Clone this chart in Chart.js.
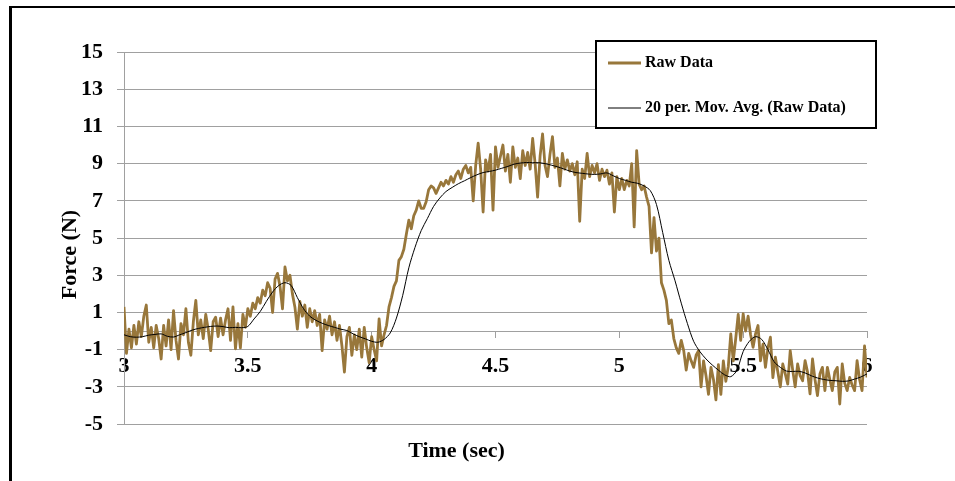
<!DOCTYPE html>
<html lang="en">
<head>
<meta charset="UTF-8">
<title>Force vs Time</title>
<script src="https://cdn.jsdelivr.net/npm/chart.js"></script>
<style>
  body { margin: 0; background: #fff; }
</style>
</head>
<body>
<canvas id="forceChart" width="955" height="481"></canvas>

<script>
// raw samples, one every 0.01 s starting at 3 s
const rawStart = 3, rawStep = 0.01;
const rawForce = [
  1.3, -1.2, 0.1, -0.9, 0.3, -0.7, 0.5, -0.3, 0.8, 1.4,
  -0.6, 0.2, -0.9, 0.3, -0.4, -1.5, 0.3, -0.8, 0.6, -1.0,
  1.1, -0.5, -1.5, 0.4, -0.2, 1.2, -0.6, -1.3, 0.5, 1.65,
  -0.2, 0.6, -0.4, 0.9, 0.1, -1.05, 0.5, 0.75, -0.3, 0.7,
  -0.2, 0.6, 1.2, -0.5, 1.3, -0.95, 0.4, -0.9, 0.9, 0.2,
  1.2, 0.8, 1.5, 1.2, 1.8, 1.5, 2.2, 1.9, 2.6, 2.3,
  1.0, 2.8, 3.1, 2.4, 1.2, 3.45, 2.7, 3.0, 2.0, 1.3,
  0.1, 1.6, 0.8, 1.4, 0.2, 1.2, 0.5, 1.1, 0.3, 0.9,
  -1.05, 0.6, 0.1, 0.8, -0.2, 0.5, -0.5, 0.3, -0.8, -2.2,
  -0.3, 0.2, -1.3, -0.2, -1.0, 0.1, -1.4, 0.2, -0.9, -1.7,
  -0.3, -1.0, -1.6, 0.66, -0.8, -0.2, 0.3, 1.3, 1.8, 2.4,
  2.7, 3.8, 4.0, 4.4, 5.2, 5.96, 5.5, 6.2, 6.5, 7.0,
  6.6, 6.6, 6.95, 7.6, 7.8, 7.7, 7.4, 7.7, 8.0, 7.8,
  8.1, 7.9, 8.3, 8.0, 8.4, 8.6, 8.2, 8.7, 8.9, 8.5,
  8.8, 7.0, 8.9, 10.1, 8.7, 6.4, 9.2, 8.6, 9.5, 6.5,
  9.9, 8.8, 9.4, 10.0, 8.6, 9.5, 8.0, 9.9, 8.8, 9.3,
  8.2, 9.7, 8.9, 9.6, 8.7, 10.35, 9.0, 7.2, 9.4, 10.6,
  8.9, 8.3, 9.5, 10.45, 8.8, 9.3, 7.8, 9.55, 8.7, 9.2,
  8.6, 9.0, 8.4, 9.1, 5.9, 8.7, 8.2, 9.55, 8.3, 8.9,
  8.5, 9.0, 8.1, 8.7, 8.3, 8.65, 7.9, 8.5, 6.4, 8.3,
  7.6, 8.2, 7.6, 8.1, 7.8, 9.0, 5.6, 9.7, 7.9, 7.6,
  7.8, 7.2, 6.7, 4.2, 6.1, 4.3, 5.0, 2.6, 2.2, 1.65,
  0.4, 0.6, -0.4, -0.9, -1.2, -0.5, -1.05, -2.1, -1.2, -1.6,
  -1.95, -1.3, -1.05, -3.0, -1.6, -2.4, -3.4, -1.95, -2.6, -3.7,
  -1.8, -3.4, -1.6, -2.7, -1.9, -0.15, -1.6, -0.4, 0.9, -0.5,
  0.93, 0.0, 0.8, -0.2, -0.87, -0.15, 0.3, -1.6, -0.7, -1.95,
  -0.9, -0.33, -2.5, -1.4, -2.2, -3.0, -1.77, -2.3, -2.85, -1.05,
  -2.1, -3.0, -1.77, -2.4, -2.67, -1.59, -2.2, -3.38, -1.5, -2.6,
  -3.47, -2.3, -1.95, -3.2, -1.95, -2.6, -3.2, -2.2, -1.95, -3.92,
  -1.77, -2.8, -3.2, -2.49, -2.9, -3.2, -1.59, -2.6, -3.2, -0.8,
  -2.49
];

// moving average, every 0.025 s
const avgStart = 3, avgStep = 0.025;
const avgForce = [
  -0.2, -0.3, -0.33, -0.3, -0.22, -0.18, -0.15, -0.28,
  -0.32, -0.2, -0.08, 0.05, 0.14, 0.2, 0.25, 0.27,
  0.24, 0.18, 0.2, 0.18, 0.25, 0.65, 1.05, 1.6,
  2.1, 2.45, 2.6, 2.45, 1.8, 1.2, 0.8, 0.58,
  0.42, 0.3, 0.2, 0.1, 0.03, -0.15, -0.3, -0.42,
  -0.55, -0.6, -0.45, -0.1, 0.7, 1.9, 3.4, 4.5,
  5.4, 6.05, 6.7, 7.15, 7.5, 7.72, 7.92, 8.08,
  8.25, 8.4, 8.52, 8.58, 8.65, 8.75, 8.85, 8.97,
  9.03, 9.06, 9.05, 9.05, 9.0, 8.92, 8.83, 8.72,
  8.6, 8.52, 8.48, 8.44, 8.42, 8.45, 8.5, 8.35,
  8.2, 8.1, 8.0, 7.94, 7.8, 7.55, 6.8, 5.3,
  3.8, 2.7, 1.5, 0.4, -0.55, -1.1, -1.5, -1.82,
  -2.1, -2.35, -2.45, -2.1, -1.1, -0.55, -0.3, -0.45,
  -1.0, -1.65, -1.95, -2.15, -2.17, -2.16, -2.25, -2.4,
  -2.52, -2.6, -2.65, -2.67, -2.7, -2.68, -2.58, -2.47,
  -2.3
];

const timeTicks = [3, 3.5, 4, 4.5, 5, 5.5, 6];
const forceTicks = [-5, -3, -1, 1, 3, 5, 7, 9, 11, 13, 15];

const seriesNames = ['Raw Data', '20 per. Mov. Avg. (Raw Data)'];

const toPoints = (vals, start, step) =>
  vals.map((v, i) => ({ x: +(start + i * step).toFixed(3), y: v }));

const serif = '"Liberation Serif", "Times New Roman", serif';
const gridGray = '#a0a0a0';

// outer frame (left and top edge of the picture)
const frame = {
  id: 'frame',
  beforeDraw(chart) {
    const ctx = chart.ctx;
    ctx.save();
    ctx.fillStyle = '#000';
    ctx.fillRect(9, 6, 3, 475);
    ctx.fillRect(9, 6, 946, 2);
    ctx.restore();
  }
};

// boxed legend sitting over the top right of the plot
const boxLegend = {
  id: 'boxLegend',
  afterDraw(chart) {
    const { ctx, chartArea } = chart;
    const x = chartArea.right - 271, y = chartArea.top - 11, w = 280, h = 87;
    ctx.save();
    ctx.fillStyle = '#fff';
    ctx.fillRect(x, y, w, h);
    ctx.lineWidth = 2;
    ctx.strokeStyle = '#000';
    ctx.strokeRect(x, y, w, h);
    ctx.font = 'bold 16px ' + serif;
    ctx.textBaseline = 'middle';
    chart.data.datasets.forEach((ds, i) => {
      const ly = y + 22 + i * 45;
      ctx.strokeStyle = ds.borderColor;
      ctx.lineWidth = ds.borderWidth;
      ctx.beginPath();
      ctx.moveTo(x + 12, ly);
      ctx.lineTo(x + 45, ly);
      ctx.stroke();
      ctx.fillStyle = '#000';
      ctx.fillText(ds.label, x + 49, ly);
    });
    ctx.restore();
  }
};

Chart.defaults.color = '#000';

new Chart(document.getElementById('forceChart'), {
  type: 'line',
  data: {
    datasets: [
      {
        label: seriesNames[0],
        data: toPoints(rawForce, rawStart, rawStep),
        borderColor: '#98773b',
        borderWidth: 2.8,
        borderJoinStyle: 'round',
        pointRadius: 0,
        tension: 0,
        order: 2
      },
      {
        label: seriesNames[1],
        data: toPoints(avgForce, avgStart, avgStep),
        borderColor: '#000',
        borderWidth: 1,
        pointRadius: 0,
        tension: 0.3,
        order: 1
      }
    ]
  },
  options: {
    responsive: false,
    animation: false,
    devicePixelRatio: 1,
    layout: { padding: { left: 46, right: 88, top: 52, bottom: 16 } },
    plugins: {
      legend: { display: false },
      tooltip: { enabled: false },
      title: {
        display: true,
        position: 'bottom',
        text: 'Time (sec)',
        font: { family: serif, size: 22, weight: 'bold' },
        padding: { top: 14.5, bottom: 0 }
      }
    },
    scales: {
      x: {
        type: 'linear',
        position: { y: 0 },
        min: 3,
        max: 6,
        afterBuildTicks: s => { s.ticks = timeTicks.map(v => ({ value: v })); },
        afterFit: s => { s.height = 0; },
        grid: { drawOnChartArea: false, drawTicks: true, tickLength: 6, color: gridGray },
        border: { color: gridGray },
        ticks: {
          padding: 16,
          maxRotation: 0,
          autoSkip: false,
          font: { family: serif, size: 22, weight: 'bold' },
          callback: v => String(v)
        }
      },
      y: {
        min: -5,
        max: 15,
        afterBuildTicks: s => { s.ticks = forceTicks.map(v => ({ value: v })); },
        afterFit: s => { s.width = 78; },
        grid: { color: gridGray, tickLength: 7 },
        border: { color: gridGray },
        ticks: {
          padding: 14,
          font: { family: serif, size: 22, weight: 'bold' }
        },
        title: {
          display: true,
          // trailing spaces push the visible words a little lower, as in the original
          text: 'Force (N)      ',
          font: { family: serif, size: 22, weight: 'bold' },
          padding: { top: 11, bottom: 0 }
        }
      }
    }
  },
  plugins: [frame, boxLegend]
});
</script>
</body>
</html>
